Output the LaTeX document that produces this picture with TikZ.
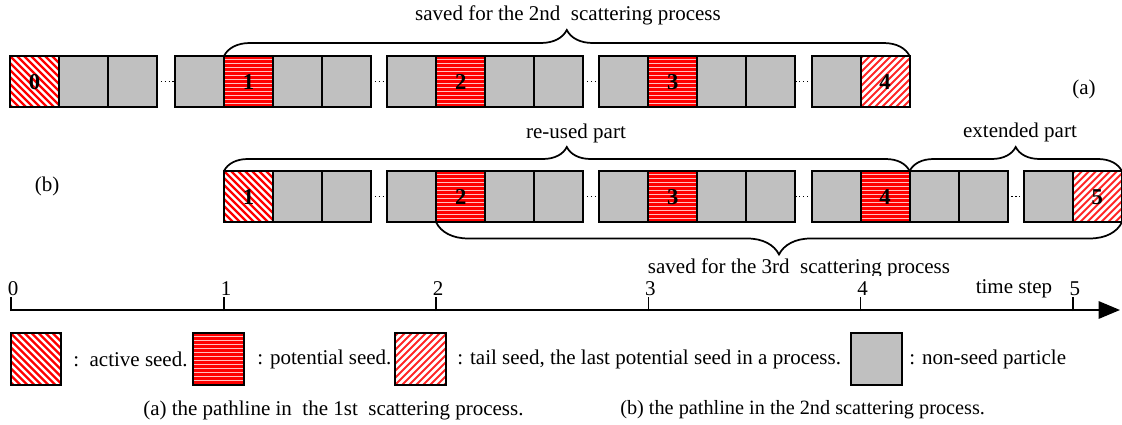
\documentclass[tikz,border=0pt]{standalone}
\usepackage{fontspec}
\setmainfont{Liberation Serif}
\usetikzlibrary{decorations.pathreplacing,arrows.meta,calc}
\definecolor{cellgray}{RGB}{192,192,192}
\definecolor{seedred}{RGB}{255,0,0}
\tikzset{
  txt/.style={font=\fontsize{15.75}{18}\selectfont, inner sep=0pt},
  cell/.style={draw=black, line width=1.5pt, minimum width=36.75pt, minimum height=38.6pt,
     inner sep=0pt, outer sep=0pt, anchor=north west, font=\fontsize{17}{18}\selectfont\bfseries},
  graycell/.style={cell, fill=cellgray},
  activecell/.style={cell, fill=white, path picture={
     \foreach \k in {-63,-56,...,63}
       \draw[seedred, line width=1.7pt] ($(path picture bounding box.north west)+(\k,0)$) -- ++(70,70);}},
  tailcell/.style={cell, fill=white, path picture={
     \foreach \k in {-63,-56,...,63}
       \draw[seedred!85, line width=1.5pt] ($(path picture bounding box.south west)+(\k,0)$) -- ++(70,-70);}},
  potcell/.style={cell, fill=seedred!25, path picture={
     \foreach \k in {0,...,13}
       \draw[seedred, line width=1.6pt] ($(path picture bounding box.north west)+(-3,\k*4+1.5)$) -- ++(60,0);}},
  brc/.style={decorate, line width=1.3pt, decoration={brace, amplitude=#1}},
  gapdots/.style={dotted, line width=0.9pt},
}
\newcommand{\num}[1]{\raisebox{-5pt}{#1}}
\begin{document}
\begin{tikzpicture}[x=0.75pt, y=-0.75pt]
\fill[white] (0,0) rectangle (1122,425);
\useasboundingbox (0,0) rectangle (1122,425);
\def\W{49}
\def\Sa{224}\def\Sb{436.2}\def\Sc{648.4}\def\Sd{860.6}\def\Se{1072.8}
% ---------------- row (a) ----------------
\def\ya{56}
\node[activecell] (a0) at (10,\ya) {\num{0}};
\node[graycell] (ag1) at (59,\ya) {};
\node[graycell] (ag2) at (108,\ya) {};
\foreach \s/\n in {\Sa/1,\Sb/2,\Sc/3}{
  \node[graycell] (a\n L) at (\s-\W,\ya) {};
  \node[potcell] (a\n) at (\s,\ya) {\num{\n}};
  \node[graycell] (a\n R1) at (\s+\W,\ya) {};
  \node[graycell] (a\n R2) at (\s+2*\W,\ya) {};
}
\node[graycell] (a4L) at (\Sd-\W,\ya) {};
\node[tailcell] (a4) at (\Sd,\ya) {\num{4}};
\draw[gapdots] (ag2.east) -- (a1L.west);
\draw[gapdots] (a1R2.east) -- (a2L.west);
\draw[gapdots] (a2R2.east) -- (a3L.west);
\draw[gapdots] (a3R2.east) -- (a4L.west);
\draw[brc=19.5pt] (a1.north west) -- (a4.north east);
\node[txt] (ta) at (568,15) {saved for the 2nd\ \ scattering process};
\node[txt] (la) at (1084,89) {(a)};
% ---------------- row (b) ----------------
\def\yb{171}
\node[activecell] (b1) at (\Sa,\yb) {\num{1}};
\node[graycell] (b1R1) at (\Sa+\W,\yb) {};
\node[graycell] (b1R2) at (\Sa+2*\W,\yb) {};
\foreach \s/\n in {\Sb/2,\Sc/3,\Sd/4}{
  \node[graycell] (b\n L) at (\s-\W,\yb) {};
  \node[potcell] (b\n) at (\s,\yb) {\num{\n}};
  \node[graycell] (b\n R1) at (\s+\W,\yb) {};
  \node[graycell] (b\n R2) at (\s+2*\W,\yb) {};
}
\node[graycell] (b5L) at (\Se-\W,\yb) {};
\node[tailcell] (b5) at (\Se,\yb) {\num{5}};
\draw[gapdots] (b1R2.east) -- (b2L.west);
\draw[gapdots] (b2R2.east) -- (b3L.west);
\draw[gapdots] (b3R2.east) -- (b4L.west);
\draw[gapdots] (b4R2.east) -- (b5L.west);
\draw[brc=18pt] (b1.north west) -- (b4.north east);
\draw[brc=18pt] (b4.north east) -- (b5.north east);
\draw[brc=24pt] (b5.south east) -- (b2.south west);
\node[txt] (tru) at (576,133) {re-used part};
\node[txt] (tex) at (1020,132) {extended part};
\begin{scope}
  \clip (600,250) rectangle (1000,275);
  \node[txt] (tsv) at (799,268) {saved for the 3rd\ \ scattering process};
\end{scope}
\node[txt] (lb) at (47,186) {(b)};
% ---------------- time axis ----------------
\coordinate (ax0) at (10,310);
\coordinate (ax1) at (1120,310);
\draw[line width=1.5pt, -{Triangle[length=16pt,width=13pt]}] (ax0) -- (ax1);
\foreach \x/\n in {11/0,\Sa/1,\Sb/2,\Sc/3,\Sd/4,\Se/5}{
  \draw[line width=1.2pt] (\x,311) -- (\x,297);
  \node[txt] (t\n) at (\x+2,289) {\n};
}
\node[txt] (tstep) at (1014,289) {time step};
% ---------------- legend ----------------
\tikzset{legcell/.style={minimum width=38pt, minimum height=39pt}}
\node[activecell, legcell] (l1) at (10.5,333) {};
\node[txt, anchor=west] (l1t) at (73,359) {:\ \ active seed.};
\node[potcell, legcell] (l2) at (193,333) {};
\node[txt, anchor=west] (l2t) at (257,359) {: potential seed.};
\node[tailcell, legcell] (l3) at (395,333) {};
\node[txt, anchor=west] (l3t) at (457,359) {: tail seed, the last potential seed in a process.};
\node[graycell, legcell] (l4) at (851,333) {};
\node[txt, anchor=west] (l4t) at (909,359) {: non-seed particle};
\node[txt, anchor=west] (ca) at (143,410) {(a) the pathline in\ \ the 1st\ \ scattering process.};
\node[txt, anchor=west, font=\fontsize{15.2}{18}\selectfont] (cb) at (620,410) {(b) the pathline in the 2nd scattering process.};
\end{tikzpicture}
\end{document}
